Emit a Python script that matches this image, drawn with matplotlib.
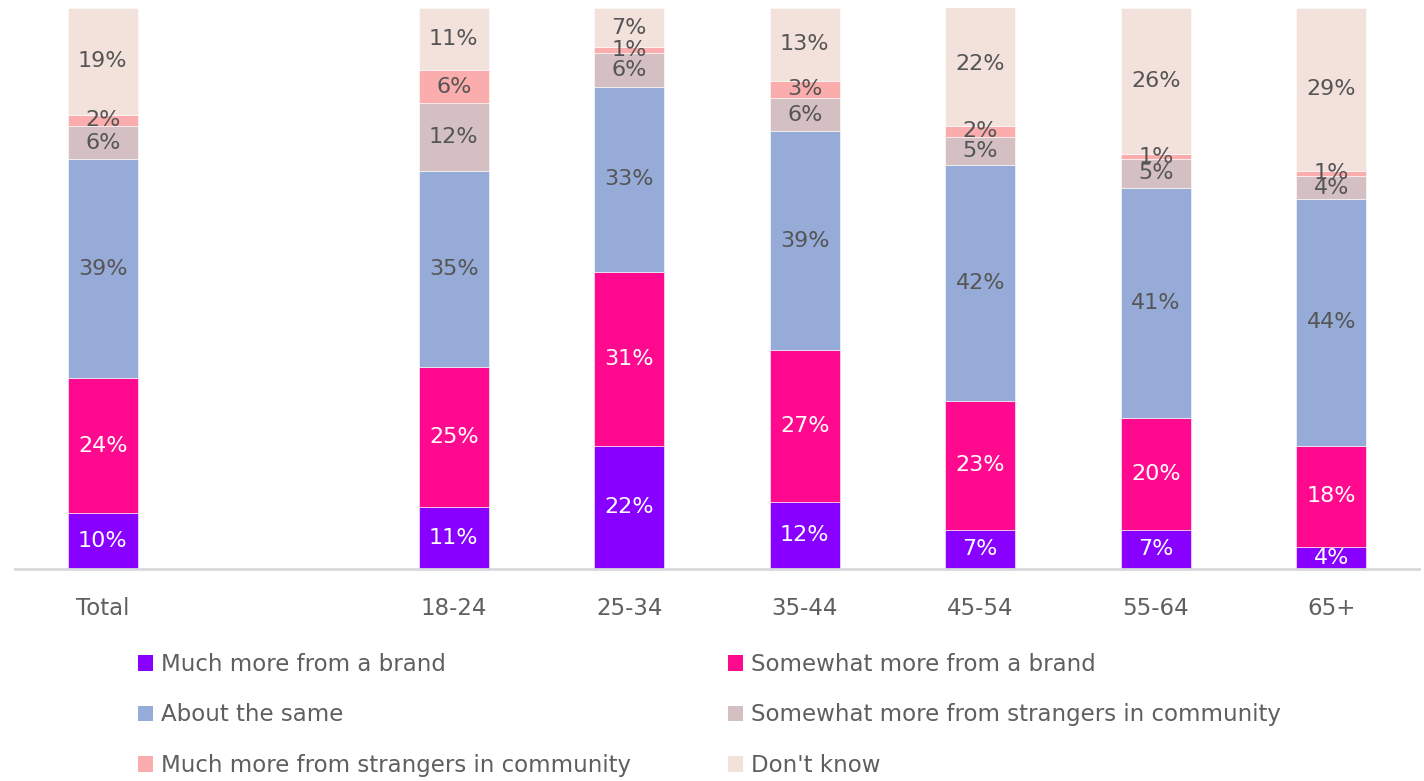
import numpy as np
import matplotlib.pyplot as plt
from matplotlib.patches import Patch

plt.rcParams['font.family'] = ['DejaVu Sans']

groups = ["Total", "", "18-24", "25-34", "35-44", "45-54", "55-64", "65+"]
series = ["Much more from a brand", "Somewhat more from a brand", "About the same",
          "Somewhat more from strangers in community", "Much more from strangers in community",
          "Don't know"]

much_brand = [10, None, 11, 22, 12, 7, 7, 4]
some_brand = [24, None, 25, 31, 27, 23, 20, 18]
same = [39, None, 35, 33, 39, 42, 41, 44]
some_strangers = [6, None, 12, 6, 6, 5, 5, 4]
much_strangers = [2, None, 6, 1, 3, 2, 1, 1]
dont_know = [19, None, 11, 7, 13, 22, 26, 29]

colors = ["#8800ff", "#ff0a8f", "#97abd8", "#d4c0c3", "#fbadad", "#f3e1dc"]
label_colors = ["white", "white", "#555555", "#555555", "#555555", "#555555"]
text_gray = "#5f5f5f"
fs = 16.5

data = [much_brand, some_brand, same, some_strangers, much_strangers, dont_know]

fig = plt.figure(figsize=(14.24, 7.81), dpi=100)
ax = fig.add_axes([0.0105, 0.2714, 0.986, 0.7184])

x = np.arange(len(groups))
idx = [i for i in range(len(groups)) if much_brand[i] is not None]
bottom = np.zeros(len(idx))
for vals, c, lc in zip(data, colors, label_colors):
    v = np.array([vals[i] for i in idx], dtype=float)
    ax.bar(x[idx], v, width=0.4, bottom=bottom, color=c,
           edgecolor="white", linewidth=0.4)
    for xi, b, h in zip(x[idx], bottom, v):
        ax.text(xi, b + h / 2, f"{int(h)}%", ha="center", va="center",
                color=lc, fontsize=16)
    bottom += v

ax.set_xlim(-0.5, 7.5)
ax.set_ylim(0, 100)
ax.set_xticks(x[idx])
ax.set_xticklabels([groups[i] for i in idx], fontsize=fs, color=text_gray)
ax.tick_params(axis="x", length=0, pad=20)
ax.set_yticks([])
for s in ["top", "left", "right"]:
    ax.spines[s].set_visible(False)
ax.spines["bottom"].set_color("#d9d9d9")
ax.spines["bottom"].set_linewidth(2)

handles = [Patch(facecolor=c) for c in colors]
order = [0, 2, 4, 1, 3, 5]
fig.legend([handles[i] for i in order], [series[i] for i in order],
           loc="upper left", bbox_to_anchor=(0.0968, 0.164), ncol=2,
           frameon=False, fontsize=fs, labelcolor=text_gray,
           handlelength=0.65, handleheight=0.65, handletextpad=0.35,
           labelspacing=1.2, columnspacing=4.25, borderpad=0, borderaxespad=0)

fig.savefig("out.png", dpi=100)
